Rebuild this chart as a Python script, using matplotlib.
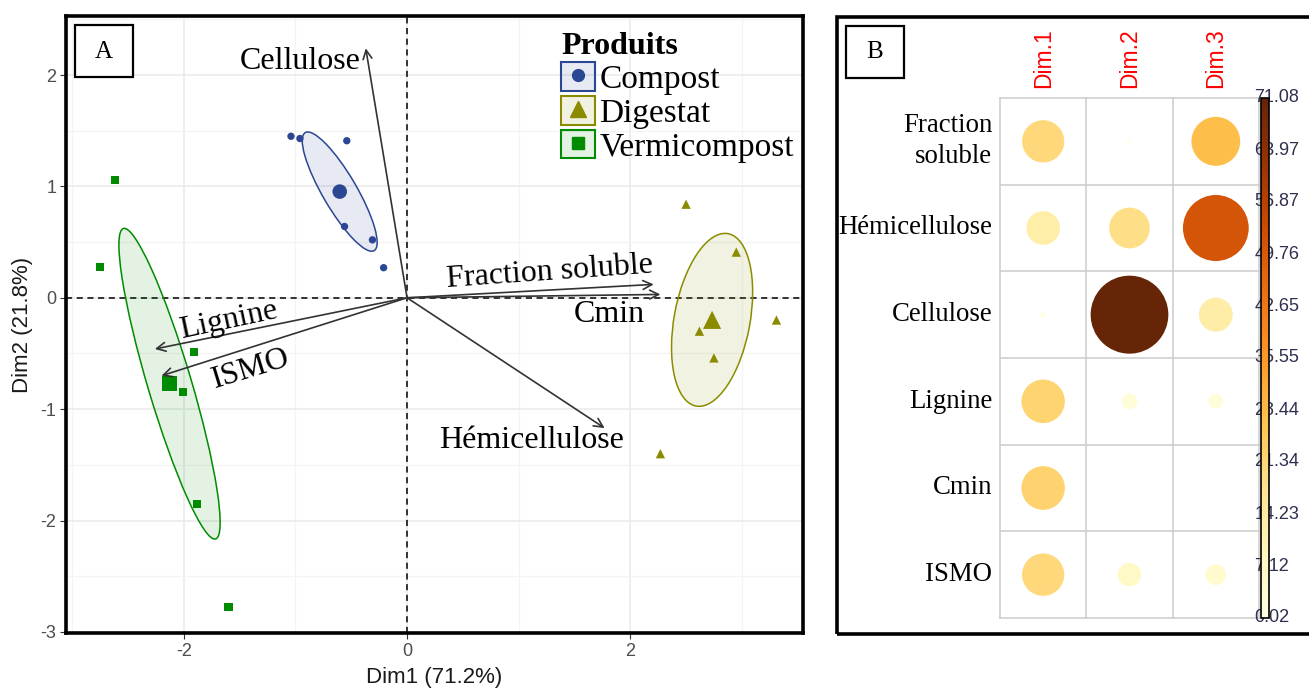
import numpy as np
import matplotlib
matplotlib.use("Agg")
import matplotlib.pyplot as plt
from matplotlib.patches import Ellipse, Rectangle, Circle, Patch
from matplotlib.lines import Line2D
from matplotlib.legend_handler import HandlerTuple
from matplotlib.colors import Normalize
from matplotlib.cm import ScalarMappable

plt.rcParams['axes.unicode_minus'] = False
SERIF = 'Liberation Serif'
SANS = 'Liberation Sans'

# -------- Panel A data: individuals (PCA scores) --------
compost_x = [-1.04, -0.96, -0.54, -0.56, -0.31, -0.21]
compost_y = [1.45, 1.43, 1.41, 0.64, 0.52, 0.27]
digestat_x = [2.50, 2.95, 2.62, 2.75, 3.31, 2.27]
digestat_y = [0.84, 0.41, -0.30, -0.54, -0.20, -1.40]
vermi_x = [-2.62, -2.75, -1.91, -2.01, -1.88, -1.60]
vermi_y = [1.06, 0.28, -0.49, -0.85, -1.85, -2.78]

groups = ["Compost", "Digestat", "Vermicompost"]

# variables (arrows)
var_names = ["Fraction soluble", "Hémicellulose", "Cellulose", "Lignine", "Cmin", "ISMO"]
var_x = [2.21, 1.77, -0.37, -2.26, 2.27, -2.20]
var_y = [0.12, -1.17, 2.24, -0.46, 0.03, -0.70]

# -------- Panel B data: contributions (%) --------
dims = ["Dim.1", "Dim.2", "Dim.3"]
contrib_dim1 = [20.9, 13.3, 0.4, 22.1, 22.3, 21.0]
contrib_dim2 = [0.2, 19.4, 71.08, 2.8, 0.02, 6.5]
contrib_dim3 = [28.0, 50.9, 13.5, 2.6, 0.05, 5.0]
row_labels = ["Fraction\nsoluble", "Hémicellulose", "Cellulose", "Lignine", "Cmin", "ISMO"]
cbar_ticks = [0.02, 7.12, 14.23, 21.34, 28.44, 35.55, 42.65, 49.76, 56.87, 63.97, 71.08]

W, H = 1309, 690
fig = plt.figure(figsize=(W / 100, H / 100), dpi=100)


def fx(px):
    return px / W


def fy(py):
    return 1 - py / H


# ================= Panel A =================
ax = fig.add_axes([fx(66), fy(633), fx(803) - fx(66), fy(16) - fy(633)])
ax.set_xlim(-3.056, 3.548)
ax.set_ylim(-3.01, 2.53)

ax.set_xticks([-2, 0, 2])
ax.set_xticks([-3, -1, 1, 3], minor=True)
ax.set_yticks([-3, -2, -1, 0, 1, 2])
ax.set_yticks([-2.5, -1.5, -0.5, 0.5, 1.5, 2.5], minor=True)
ax.grid(which='major', color='#EBEBEB', lw=1.2, zorder=0)
ax.grid(which='minor', color='#F4F4F4', lw=0.9, zorder=0)
ax.set_axisbelow(True)
ax.tick_params(which='major', length=4, color='#333333', labelcolor='#4D4D4D',
               labelsize=13, pad=3)
ax.tick_params(which='minor', length=0)
for lab in ax.get_xticklabels() + ax.get_yticklabels():
    lab.set_family(SANS)
for s in ax.spines.values():
    s.set_linewidth(2.6)
    s.set_color('black')

ax.set_xlabel("Dim1 (71.2%)", family=SANS, fontsize=16, color='#1A1A1A', labelpad=5)
ax.set_ylabel("Dim2 (21.8%)", family=SANS, fontsize=16, color='#1A1A1A', labelpad=5)

ax.axhline(0, color='black', ls=(0, (4, 3)), lw=1.1, zorder=1)
ax.axvline(0, color='black', ls=(0, (4, 3)), lw=1.1, zorder=1)

colors = ['#2B4794', '#8B8B00', '#008B00']
markers = ['o', '^', 's']
sizes = [28, 45, 34]
mean_sizes = [110, 170, 120]
chi2_95 = -2 * np.log(0.05)

for gx, gy, col, mk, sz, msz in zip([compost_x, digestat_x, vermi_x],
                                    [compost_y, digestat_y, vermi_y],
                                    colors, markers, sizes, mean_sizes):
    gx = np.array(gx)
    gy = np.array(gy)
    n = len(gx)
    mx, my = gx.mean(), gy.mean()
    # confidence ellipse around the group mean
    cov = np.cov(gx, gy)
    vals, vecs = np.linalg.eigh(cov)
    order = vals.argsort()[::-1]
    vals, vecs = vals[order], vecs[:, order]
    angle = np.degrees(np.arctan2(vecs[1, 0], vecs[0, 0]))
    w, h = 2 * np.sqrt(vals * chi2_95 / n)
    ax.add_patch(Ellipse((mx, my), w, h, angle=angle, facecolor=col, alpha=0.11,
                         edgecolor='none', zorder=2))
    ax.add_patch(Ellipse((mx, my), w, h, angle=angle, facecolor='none',
                         edgecolor=col, lw=1.1, zorder=2))
    ax.scatter(gx, gy, s=sz, marker=mk, color=col, edgecolor='none', zorder=3)
    ax.scatter([mx], [my], s=msz, marker=mk, color=col, edgecolor='none', zorder=3)

# variable arrows
for vx, vy in zip(var_x, var_y):
    ax.annotate("", xy=(vx, vy), xytext=(0, 0),
                arrowprops=dict(arrowstyle='->', color='#333333', lw=1.2,
                                mutation_scale=16, shrinkA=0, shrinkB=0), zorder=4)

# label placement (layout): x, y, rotation
label_place = {
    "Fraction soluble": (1.28, 0.23, 4),
    "Hémicellulose": (1.12, -1.28, 0),
    "Cellulose": (-0.96, 2.12, 0),
    "Lignine": (-1.60, -0.20, 12),
    "Cmin": (1.81, -0.15, 0),
    "ISMO": (-1.40, -0.64, 17),
}
for name in var_names:
    lx, ly, rot = label_place[name]
    ax.text(lx, ly, name, family=SERIF, fontsize=23, ha='center', va='center',
            rotation=rot, rotation_mode='anchor', zorder=5)

# legend
handles = []
for col, mk, ms in zip(colors, markers, [8.5, 11, 8.5]):
    box = Patch(facecolor=matplotlib.colors.to_rgba(col, 0.11), edgecolor=col, lw=1.5)
    pt = Line2D([], [], marker=mk, color=col, ls='', ms=ms)
    handles.append((box, pt))
leg = ax.legend(handles, groups, handler_map={tuple: HandlerTuple(ndivide=1, pad=0)},
                title="Produits", loc='upper right', bbox_to_anchor=(0.988, 0.974),
                frameon=False, prop={'family': SERIF, 'size': 24},
                title_fontproperties={'family': SERIF, 'size': 23, 'weight': 'bold'},
                alignment='left', handlelength=1.0, handleheight=0.95,
                handletextpad=0.15, labelspacing=0.03, borderpad=0, borderaxespad=0)

# "A" box
fig.add_artist(Rectangle((fx(75), fy(77)), fx(133) - fx(75), fy(25) - fy(77),
                         transform=fig.transFigure, facecolor='white',
                         edgecolor='black', lw=1.6, zorder=10))
fig.text(fx(104), fy(52), "A", family=SERIF, fontsize=18, ha='center', va='center',
         zorder=11)

# ================= Panel B =================
fig.add_artist(Rectangle((fx(837), fy(634)), 1.0, fy(17) - fy(634),
                         transform=fig.transFigure, facecolor='none',
                         edgecolor='black', lw=2.6, zorder=10))
fig.add_artist(Rectangle((fx(846), fy(78)), fx(904) - fx(846), fy(26) - fy(78),
                         transform=fig.transFigure, facecolor='white',
                         edgecolor='black', lw=1.6, zorder=10))
fig.text(fx(875), fy(52), "B", family=SERIF, fontsize=18, ha='center', va='center',
         zorder=11)

axb = fig.add_axes([fx(1000), fy(618), fx(1259) - fx(1000), fy(98) - fy(618)])
axb.set_xlim(0, 3)
axb.set_ylim(6, 0)
axb.axis('off')

vmin, vmax = min(cbar_ticks), max(cbar_ticks)
norm = Normalize(vmin, vmax)
cmap = plt.get_cmap('YlOrBr')

for k in range(4):
    axb.plot([k, k], [0, 6], color='#CCCCCC', lw=1.1, zorder=1, clip_on=False)
for k in range(7):
    axb.plot([0, 3], [k, k], color='#CCCCCC', lw=1.1, zorder=1, clip_on=False)

for j, vals in enumerate([contrib_dim1, contrib_dim2, contrib_dim3]):
    for i, v in enumerate(vals):
        r = 0.45 * np.sqrt(v / vmax)
        axb.add_patch(Circle((j + 0.5, i + 0.5), r, facecolor=cmap(norm(v)),
                             edgecolor='none', zorder=2))

for i, lab in enumerate(row_labels):
    axb.text(-0.09, i + 0.5, lab, family=SERIF, fontsize=19.3, ha='right',
             va='center', linespacing=1.3)
for j, d in enumerate(dims):
    axb.text(j + 0.5, -0.12, d, family=SANS, fontsize=16.5, color='red',
             rotation=90, ha='center', va='bottom')

cax = fig.add_axes([fx(1261), fy(618), fx(1269) - fx(1261), fy(98) - fy(618)])
cb = fig.colorbar(ScalarMappable(norm=norm, cmap=cmap), cax=cax)
cb.set_ticks([])
cb.outline.set_linewidth(1.2)
cb.outline.set_edgecolor('black')
for t in cbar_ticks:
    cax.text(-0.85, t, "%.2f" % t, transform=cax.get_yaxis_transform(),
             family=SANS, fontsize=13, color='#2F2F4F', ha='left', va='center',
             zorder=0.5, clip_on=False)

fig.savefig("out.png", dpi=100)
